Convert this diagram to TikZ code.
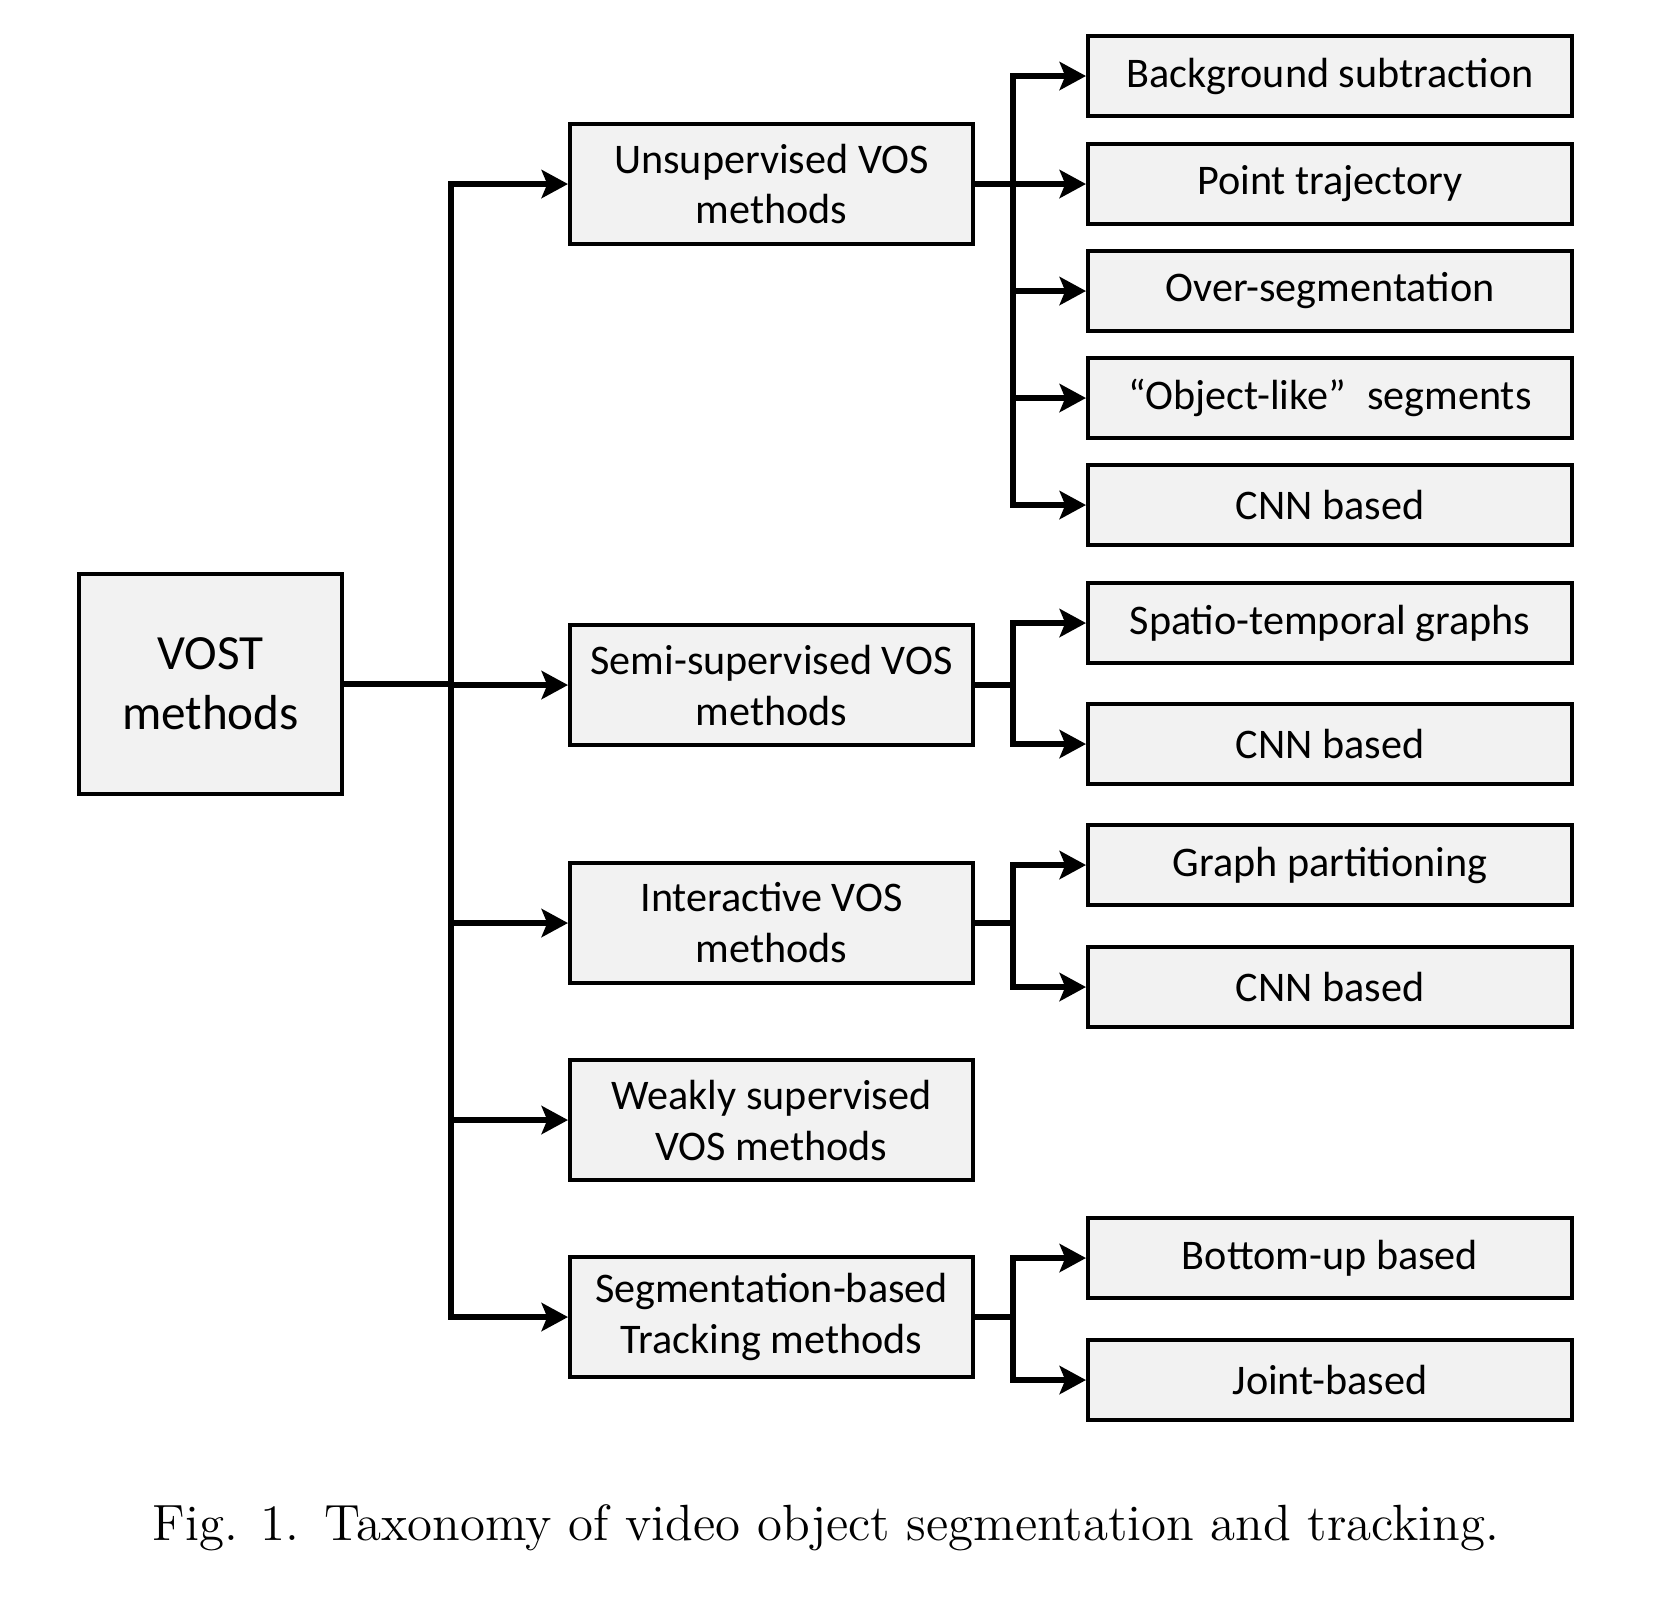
\documentclass[tikz,border=0pt]{standalone}
\usepackage{fontspec}
\usetikzlibrary{arrows.meta}
\newfontfamily\boxfont{Carlito}
\definecolor{boxgray}{HTML}{F2F2F2}

\begin{document}
\begin{tikzpicture}[>={Stealth[length=7.5pt,width=8pt,inset=1.6pt]},
  every node/.style={align=center},
  link/.style={line width=1.7pt},
  cat/.style={draw,line width=1.15pt,fill=boxgray,minimum width=4.03cm,minimum height=1.2cm,inner sep=0pt,font=\boxfont\fontsize{12}{14.5}\selectfont},
  leaf/.style={draw,line width=1.15pt,fill=boxgray,minimum width=4.84cm,minimum height=0.8cm,inner sep=0pt,font=\boxfont\fontsize{12}{14.5}\selectfont}]
\useasboundingbox (0,0) rectangle (16.58,-16.18);
\node[draw,line width=1.15pt,fill=boxgray,minimum width=2.63cm,minimum height=2.2cm,font=\boxfont\fontsize{14}{17}\selectfont] (vost) at (2.105,-6.84) {VOST\\methods};
\node[cat] (uns) at (7.715,-1.84) {Unsupervised VOS\\methods};
\node[cat] (semi) at (7.715,-6.85) {Semi-supervised VOS\\methods};
\node[cat] (inter) at (7.715,-9.23) {Interactive VOS\\methods};
\node[cat] (weak) at (7.715,-11.20) {Weakly supervised\\VOS methods};
\node[cat] (seg) at (7.715,-13.17) {Segmentation-based\\Tracking methods};
\node[leaf] (bg) at (13.30,-0.76) {Background subtraction};
\node[leaf] (pt) at (13.30,-1.84) {Point trajectory};
\node[leaf] (os) at (13.30,-2.91) {Over-segmentation};
\node[leaf] (ol) at (13.30,-3.98) {“Object-like”\enspace segments};
\node[leaf] (cnna) at (13.30,-5.05) {CNN based};
\node[leaf] (stg) at (13.30,-6.23) {Spatio-temporal graphs};
\node[leaf] (cnnb) at (13.30,-7.44) {CNN based};
\node[leaf] (gp) at (13.30,-8.65) {Graph partitioning};
\node[leaf] (cnnc) at (13.30,-9.87) {CNN based};
\node[leaf] (bu) at (13.30,-12.58) {Bottom-up based};
\node[leaf] (jb) at (13.30,-13.80) {Joint-based};
\foreach \m in {uns,semi,inter,weak,seg}
  \draw[link,->] (vost.east) -- ++(1.07,0) |- (\m.west);
\foreach \l in {bg,pt,os,ol,cnna}
  \draw[link,->] (uns.east) -- ++(0.38,0) |- (\l.west);
\foreach \l in {stg,cnnb}
  \draw[link,->] (semi.east) -- ++(0.38,0) |- (\l.west);
\foreach \l in {gp,cnnc}
  \draw[link,->] (inter.east) -- ++(0.38,0) |- (\l.west);
\foreach \l in {bu,jb}
  \draw[link,->] (seg.east) -- ++(0.38,0) |- (\l.west);
\node[font=\fontsize{14.5}{17}\selectfont] (cap) at (8.26,-15.28) {Fig. 1.\enspace Taxonomy of video object segmentation and tracking.};
\end{tikzpicture}
\end{document}
